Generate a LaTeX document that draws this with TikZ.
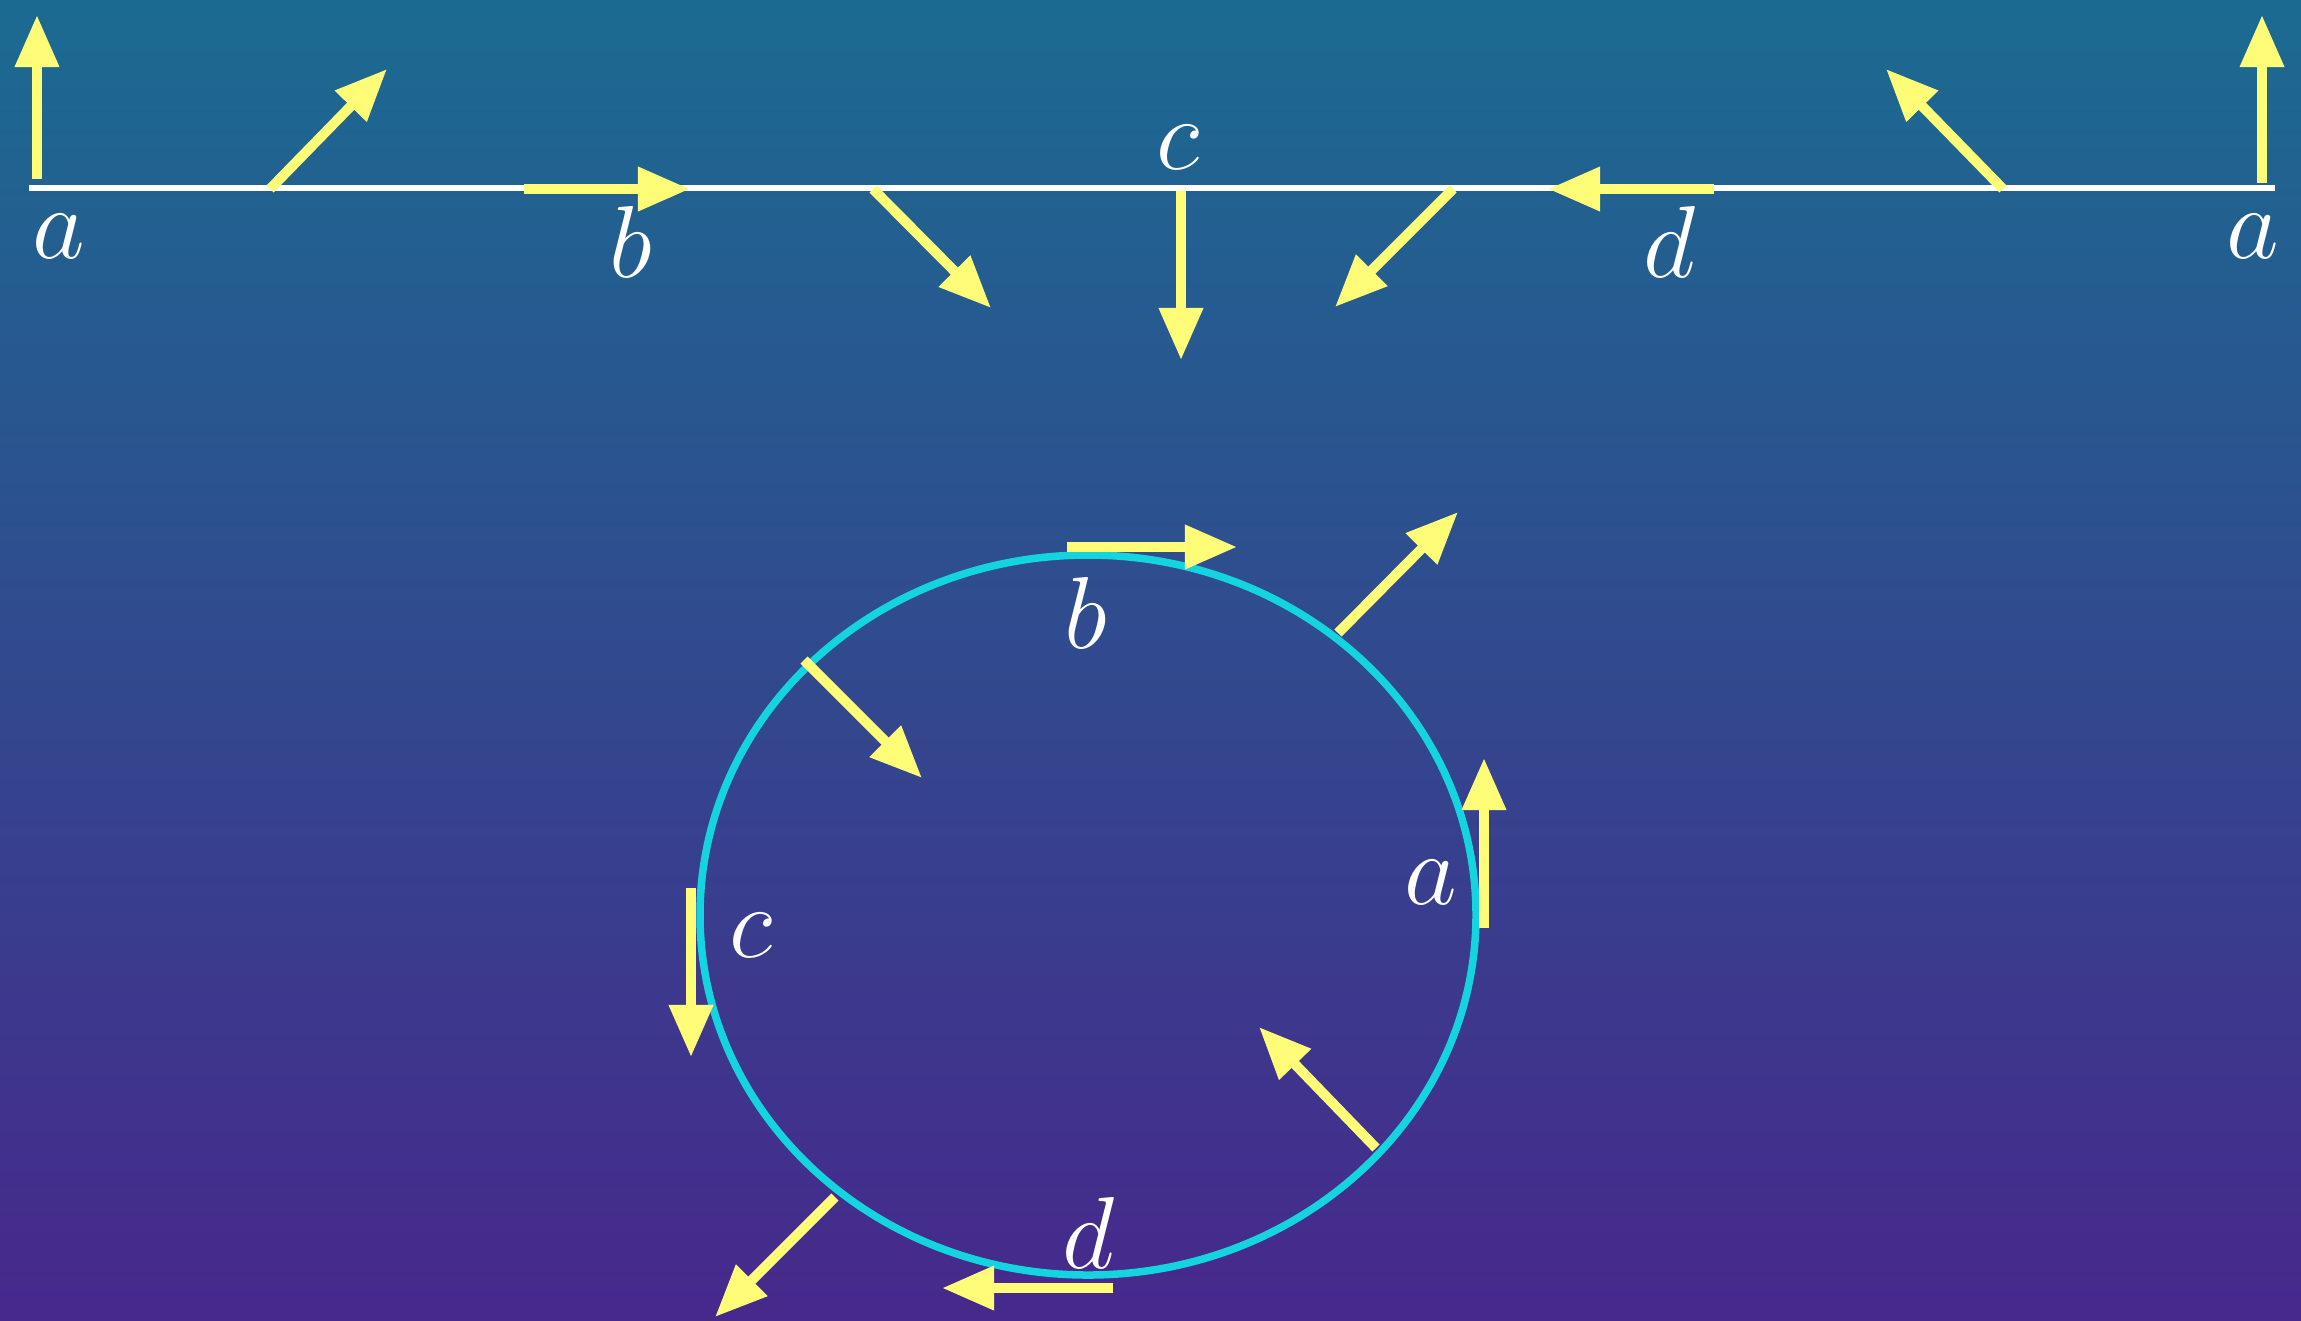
\documentclass[tikz,border=0pt]{standalone}
\usetikzlibrary{arrows.meta}
\definecolor{bgtop}{HTML}{1B6B91}
\definecolor{bgbot}{HTML}{47288C}
\definecolor{vec}{HTML}{FFFC78}
\definecolor{ring}{HTML}{14D4E0}
\begin{document}
\begin{tikzpicture}[x=0.01cm,y=-0.01cm,
  vecarrow/.style={draw=vec,line width=0.1cm,-{Triangle[length=0.52cm,width=0.42cm]}},
  lbl/.style={text=white,inner sep=0pt,scale=1.17,transform shape,font=\fontsize{24.88}{30}\selectfont}]
\shade[top color=bgtop,bottom color=bgbot] (0,0) rectangle (2301,1320);
\useasboundingbox (0,0) rectangle (2301,1320);
% line
\coordinate (L1) at (29,188);
\coordinate (L2) at (2275,188);
\draw[white,line width=0.055cm] (L1) -- (L2);
% top arrows
\coordinate (t1s) at (37,179);   \coordinate (t1e) at (37,15);
\coordinate (t2s) at (270,189);  \coordinate (t2e) at (387,69);
\coordinate (t3s) at (524,189);  \coordinate (t3e) at (690,189);
\coordinate (t4s) at (873,189);  \coordinate (t4e) at (991,308);
\coordinate (t5s) at (1181,191); \coordinate (t5e) at (1181,360);
\coordinate (t6s) at (1453,189); \coordinate (t6e) at (1335,307);
\coordinate (t7s) at (1714,189); \coordinate (t7e) at (1548,189);
\coordinate (t8s) at (2003,189); \coordinate (t8e) at (1886,69);
\coordinate (t9s) at (2262,183); \coordinate (t9e) at (2262,15);
\foreach \i in {1,...,9} \draw[vecarrow] (t\i s) -- (t\i e);
\node[lbl] (la1) at (59,236) {$a$};
\node[lbl] (lb1) at (631,242) {$b$};
\node[lbl] (lc1) at (1178,147) {$c$};
\node[lbl] (ld1) at (1670,242) {$d$};
\node[lbl] (la2) at (2253,236) {$a$};
% ring
\coordinate (C) at (1088,915);
\draw[ring,line width=0.075cm] (C) ellipse [x radius=388,y radius=360];
\coordinate (c1s) at (1067,547);  \coordinate (c1e) at (1237,547);
\coordinate (c2s) at (1338,633);  \coordinate (c2e) at (1458,512);
\coordinate (c3s) at (1484,928);  \coordinate (c3e) at (1484,758);
\coordinate (c4s) at (1376,1148); \coordinate (c4e) at (1259,1027);
\coordinate (c5s) at (1113,1288); \coordinate (c5e) at (942,1288);
\coordinate (c6s) at (835,1197);  \coordinate (c6e) at (715,1317);
\coordinate (c7s) at (691,888);   \coordinate (c7e) at (691,1057);
\coordinate (c8s) at (804,660);   \coordinate (c8e) at (922,778);
\foreach \i in {1,...,8} \draw[vecarrow] (c\i s) -- (c\i e);
\node[lbl] (lb2) at (1086,613) {$b$};
\node[lbl] (la3) at (1431,882) {$a$};
\node[lbl] (lc2) at (751,935) {$c$};
\node[lbl] (ld2) at (1089,1233) {$d$};
\end{tikzpicture}
\end{document}
